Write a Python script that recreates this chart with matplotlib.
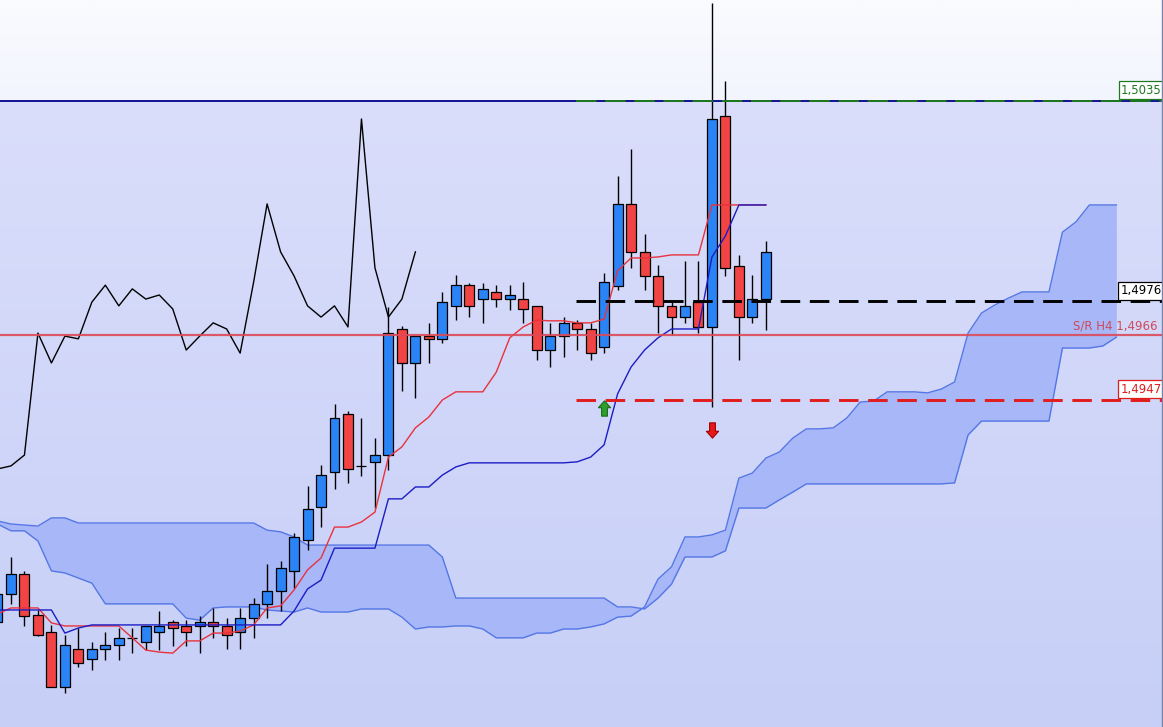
import numpy as np
import matplotlib.pyplot as plt
from matplotlib.path import Path

# H4 candles, oldest first
opens = [1.48817, 1.48899, 1.48958, 1.48837, 1.48787, 1.48625, 1.48737, 1.48708, 1.48737, 1.48749,
         1.48770, 1.48758, 1.48787, 1.48817, 1.48805, 1.48805, 1.48817, 1.48805, 1.48787, 1.48828,
         1.48870, 1.48908, 1.48967, 1.49058, 1.49155, 1.49258, 1.49429, 1.49276, 1.49288, 1.49308,
         1.49679, 1.49579, 1.49658, 1.49650, 1.49747, 1.49808, 1.49767, 1.49788, 1.49767, 1.49767,
         1.49747, 1.49617, 1.49658, 1.49697, 1.49679, 1.49626, 1.49806, 1.50047, 1.49906, 1.49835,
         1.49747, 1.49714, 1.49758, 1.49685, 1.50306, 1.49864, 1.49714, 1.49767]
highs = [1.48911, 1.49008, 1.48967, 1.48852, 1.48808, 1.48778, 1.48799, 1.48758, 1.48787, 1.48799,
         1.48799, 1.48805, 1.48849, 1.48822, 1.48822, 1.48834, 1.48858, 1.48828, 1.48858, 1.48887,
         1.48987, 1.48996, 1.49079, 1.49217, 1.49279, 1.49458, 1.49438, 1.49417, 1.49358, 1.49744,
         1.49688, 1.49658, 1.49697, 1.49788, 1.49838, 1.49814, 1.49814, 1.49808, 1.49808, 1.49817,
         1.49747, 1.49697, 1.49714, 1.49705, 1.49697, 1.49844, 1.50129, 1.50209, 1.49959, 1.49867,
         1.49758, 1.49879, 1.49879, 1.50638, 1.50409, 1.49897, 1.49838, 1.49938]
lows = [1.48805, 1.48870, 1.48805, 1.48775, 1.48625, 1.48608, 1.48684, 1.48675, 1.48705, 1.48705,
        1.48725, 1.48734, 1.48734, 1.48746, 1.48746, 1.48725, 1.48770, 1.48737, 1.48737, 1.48770,
        1.48828, 1.48849, 1.48917, 1.49029, 1.49096, 1.49208, 1.49226, 1.49246, 1.49152, 1.49264,
        1.49497, 1.49476, 1.49579, 1.49638, 1.49705, 1.49714, 1.49697, 1.49744, 1.49735, 1.49697,
        1.49588, 1.49567, 1.49597, 1.49617, 1.49588, 1.49608, 1.49794, 1.49859, 1.49794, 1.49667,
        1.49661, 1.49697, 1.49667, 1.49449, 1.49835, 1.49588, 1.49697, 1.49676]
closes = [1.48899, 1.48958, 1.48834, 1.48778, 1.48625, 1.48749, 1.48696, 1.48737, 1.48749, 1.48770,
          1.48770, 1.48805, 1.48805, 1.48799, 1.48787, 1.48817, 1.48805, 1.48778, 1.48828, 1.48870,
          1.48908, 1.48976, 1.49067, 1.49149, 1.49249, 1.49417, 1.49267, 1.49276, 1.49308, 1.49667,
          1.49579, 1.49658, 1.49650, 1.49758, 1.49808, 1.49747, 1.49797, 1.49767, 1.49779, 1.49738,
          1.49617, 1.49658, 1.49697, 1.49679, 1.49608, 1.49817, 1.50047, 1.49906, 1.49835, 1.49747,
          1.49714, 1.49747, 1.49685, 1.50297, 1.49859, 1.49714, 1.49767, 1.49906]

# Ichimoku lines
tenkan = [1.48840, 1.48858, 1.48858, 1.48858, 1.48814, 1.48805, 1.48805, 1.48805, 1.48805, 1.48805,
          1.48770, 1.48734, 1.48728, 1.48725, 1.48761, 1.48761, 1.48784, 1.48784, 1.48790, 1.48808,
          1.48858, 1.48864, 1.48911, 1.48970, 1.49005, 1.49096, 1.49096, 1.49111, 1.49140, 1.49302,
          1.49332, 1.49388, 1.49420, 1.49470, 1.49494, 1.49494, 1.49494, 1.49552, 1.49653, 1.49685,
          1.49705, 1.49703, 1.49703, 1.49697, 1.49697, 1.49708, 1.49850, 1.49888, 1.49888, 1.49891,
          1.49897, 1.49897, 1.49897, 1.50044, 1.50044, 1.50044, 1.50044, 1.50044]
kijun = [1.48852, 1.48852, 1.48852, 1.48852, 1.48852, 1.48784, 1.48799, 1.48808, 1.48808, 1.48808,
         1.48808, 1.48808, 1.48808, 1.48808, 1.48808, 1.48808, 1.48808, 1.48808, 1.48808, 1.48808,
         1.48808, 1.48808, 1.48849, 1.48914, 1.48940, 1.49034, 1.49034, 1.49034, 1.49034, 1.49179,
         1.49179, 1.49214, 1.49214, 1.49249, 1.49273, 1.49285, 1.49285, 1.49285, 1.49285, 1.49285,
         1.49285, 1.49285, 1.49285, 1.49288, 1.49302, 1.49338, 1.49488, 1.49567, 1.49617, 1.49653,
         1.49679, 1.49679, 1.49679, 1.49891, 1.49953, 1.50044, 1.50044, 1.50044]
# cloud, already shifted 26 bars forward
span_a = [1.49105, 1.49085, 1.49085, 1.49055, 1.48967, 1.48961, 1.48946, 1.48931, 1.48870, 1.48870,
          1.48870, 1.48870, 1.48870, 1.48870, 1.48828, 1.48822, 1.48858, 1.48861, 1.48861, 1.48861,
          1.48852, 1.48849, 1.48846, 1.48858, 1.48846, 1.48846, 1.48846, 1.48855, 1.48855, 1.48855,
          1.48831, 1.48796, 1.48802, 1.48802, 1.48805, 1.48805, 1.48796, 1.48770, 1.48770, 1.48770,
          1.48784, 1.48784, 1.48796, 1.48796, 1.48802, 1.48811, 1.48831, 1.48834, 1.48861, 1.48943,
          1.48979, 1.49067, 1.49067, 1.49073, 1.49087, 1.49240, 1.49255, 1.49299, 1.49317, 1.49358,
          1.49385, 1.49385, 1.49388, 1.49417, 1.49464, 1.49467, 1.49494, 1.49494, 1.49494, 1.49491,
          1.49502, 1.49523, 1.49667, 1.49726, 1.49750, 1.49770, 1.49788, 1.49788, 1.49788, 1.49964,
          1.49994, 1.50044, 1.50044, 1.50044]
span_b = [1.49114, 1.49105, 1.49102, 1.49099, 1.49123, 1.49123, 1.49108, 1.49108, 1.49108, 1.49108,
          1.49108, 1.49108, 1.49108, 1.49108, 1.49108, 1.49108, 1.49108, 1.49108, 1.49108, 1.49108,
          1.49087, 1.49082, 1.49067, 1.49043, 1.49043, 1.49043, 1.49043, 1.49043, 1.49043, 1.49043,
          1.49043, 1.49043, 1.49043, 1.49008, 1.48887, 1.48887, 1.48887, 1.48887, 1.48887, 1.48887,
          1.48887, 1.48887, 1.48887, 1.48887, 1.48887, 1.48887, 1.48861, 1.48861, 1.48855, 1.48887,
          1.48928, 1.49008, 1.49008, 1.49008, 1.49026, 1.49152, 1.49152, 1.49152, 1.49176, 1.49199,
          1.49223, 1.49223, 1.49223, 1.49223, 1.49223, 1.49223, 1.49223, 1.49223, 1.49223, 1.49223,
          1.49223, 1.49226, 1.49367, 1.49408, 1.49408, 1.49408, 1.49408, 1.49408, 1.49408, 1.49623,
          1.49623, 1.49623, 1.49629, 1.49655]

SHIFT = 26  # chikou lag

# horizontal levels
resistance = 1.5035
pivot = 1.4976
sr_h4 = 1.4966
support = 1.4947
level_start = 42.9   # bar where the dashed levels begin

# signal arrows (bar, price)
signal_up = (45, 1.49446)
signal_down = (53, 1.49382)

BLUE = '#2b84f5'
RED = '#f24444'

fig = plt.figure(figsize=(11.63, 7.27), dpi=100)
ax = fig.add_axes([0, 0, 1, 1])
x0, x1 = 0.1855, 86.46
y0, y1 = 1.485076, 1.506472

# background: pale above resistance, tinted zone below
top_grad = np.linspace([250, 251, 255], [243, 245, 254], 64)[:, None, :] / 255
low_grad = np.linspace([218, 222, 251], [199, 207, 247], 256)[:, None, :] / 255
ax.imshow(top_grad, extent=(x0, x1, resistance, y1), aspect='auto', zorder=0)
ax.imshow(low_grad, extent=(x0, x1, y0, resistance), aspect='auto', zorder=0)

# cloud
jx = np.arange(len(span_a))
ax.fill_between(jx, span_a, span_b, color='#a7b7f7', lw=0, zorder=1)
ax.plot(jx, span_a, color='#5577e6', lw=1, zorder=2)
ax.plot(jx, span_b, color='#5577e6', lw=1, zorder=2)

# candles
o = np.array(opens)
h = np.array(highs)
l = np.array(lows)
c = np.array(closes)
x = np.arange(len(o))
colors = np.where(c >= o, BLUE, RED)
ax.vlines(x, l, h, color='black', lw=1.0, zorder=3)
ax.bar(x, c - o, bottom=o, width=0.74, color=colors, edgecolor='black', linewidth=0.9, zorder=4)

# ichimoku lines
ax.plot(x, tenkan, color='#e8323c', lw=1, zorder=5)
ax.plot(x, kijun, color='#1c1cc4', lw=1, zorder=6)
ax.plot(x[:len(c) - SHIFT], c[SHIFT:], color='black', lw=1, zorder=6)

# levels
ax.axhline(resistance, color='#121294', lw=1.4, zorder=7)
ax.plot([level_start, x1], [resistance, resistance], color='#1e7a1e', lw=1.4,
        ls=(0, (10.5, 4.5)), zorder=8)
ax.axhline(sr_h4, color='#dc4a58', lw=1.6, alpha=0.9, zorder=7)
ax.plot([level_start, x1], [pivot, pivot], color='black', lw=2.1, ls=(0, (6.7, 3.3)), zorder=8)
ax.plot([level_start, x1], [support, support], color='#e01c1c', lw=2.1, ls=(0, (6.7, 3.3)), zorder=8)

for price, col in [(resistance, '#1e7a1e'), (pivot, 'black'), (support, '#e01c1c')]:
    ax.annotate(f'{price:.4f}'.replace('.', ','), xy=(0.9815, price),
                xycoords=('axes fraction', 'data'), xytext=(0, 3), textcoords='offset points',
                ha='center', va='bottom', fontsize=8.5, color=col, zorder=10,
                bbox=dict(boxstyle='square,pad=0.22', fc='white', ec=col, lw=0.9))
ax.annotate('S/R H4 ' + f'{sr_h4:.4f}'.replace('.', ','), xy=(0.9955, sr_h4),
            xycoords=('axes fraction', 'data'), xytext=(0, 2), textcoords='offset points',
            ha='right', va='bottom', fontsize=8.5, color='#d04a5a', zorder=10)

# signal arrows
arrow = [(0, 1), (0.8, 0.1), (0.38, 0.1), (0.38, -1), (-0.38, -1), (-0.38, 0.1), (-0.8, 0.1), (0, 1)]
codes = [Path.MOVETO] + [Path.LINETO] * 6 + [Path.CLOSEPOLY]
up_arrow = Path(arrow, codes)
down_arrow = Path([(px, -py) for px, py in arrow], codes)
ax.plot(*signal_up, marker=up_arrow, markersize=11, color='#2e9e2e', mec='#1b6b1b', mew=0.8, zorder=9)
ax.plot(*signal_down, marker=down_arrow, markersize=11, color='#e81818', mec='#a00000', mew=0.8, zorder=9)

# right border
ax.plot([0.9988, 0.9988], [0, 1], transform=ax.transAxes, color='#7a84a8', lw=1, zorder=11)

ax.set_xlim(x0, x1)
ax.set_ylim(y0, y1)
ax.axis('off')
fig.savefig('out.png', dpi=100)
